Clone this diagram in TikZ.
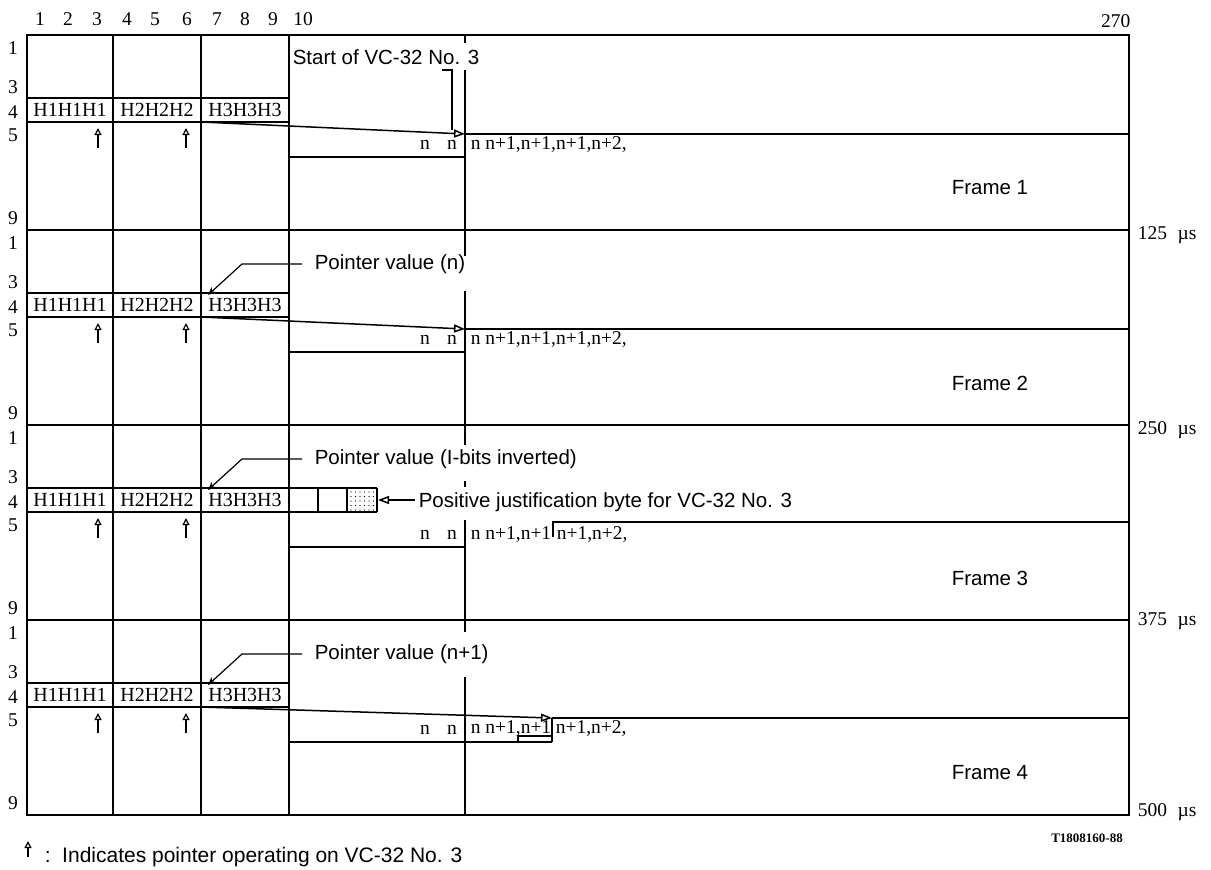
\documentclass[tikz,border=0pt]{standalone}
\usepackage{fontspec}
\setmainfont{Liberation Serif}
\newfontfamily\labfont{Liberation Sans}
\usetikzlibrary{arrows.meta}
\tikzset{
  ser/.style={font=\fontsize{19.5}{19.5}\selectfont, inner sep=0pt},
  seqs/.style={font=\fontsize{19.5}{19.5}\selectfont, inner sep=0pt, anchor=west},
  hb/.style={font=\fontsize{20}{20}\selectfont, inner sep=0pt},
  lbl/.style={font=\labfont\fontsize{20.5}{20.5}\selectfont, inner sep=0pt, anchor=west},
  uparr/.style={-{Triangle[open,length=7pt,width=7pt]}, line width=1.2pt},
  mainarr/.style={-{Triangle[open,length=11pt,width=8pt]}},
  ptrarr/.style={-{Stealth[length=8pt,width=7pt]}, line width=1.2pt},
}
\begin{document}
\begin{tikzpicture}[x=1pt,y=-1pt,line width=1.5pt]
\useasboundingbox (0,0) rectangle (1211,870);
\fill[white] (0,0) rectangle (1211,870);
% outer frame
\draw (27,35) rectangle (1129,815);
\foreach \yy in {230,425,620} \draw (27,\yy) -- (1129,\yy);
\foreach \xx in {113,201,289} \draw (\xx,35) -- (\xx,815);
% column numbers
\foreach \i/\xx in {1/40,2/68,3/97,4/127,5/155,6/187,7/217,8/245,9/273,10/303}
  \node[ser] (col\i) at (\xx,19) {\i};
\node[ser,anchor=east] (col270) at (1131,21) {270};
% frames
\foreach \o/\f in {0/1,195/2,390/3,585/4}{
  \node[ser] (ra\f) at (13,48+\o) {1};
  \node[ser] (rb\f) at (13,87+\o) {3};
  \node[ser] (rc\f) at (13,112+\o) {4};
  \node[ser] (rd\f) at (13,135+\o) {5};
  \node[ser] (re\f) at (13,218+\o) {9};
  \draw (27,98+\o) rectangle (289,122+\o);
  \node[hb] (hA\f) at (70,110+\o) {H1H1H1};
  \node[hb] (hB\f) at (157,110+\o) {H2H2H2};
  \node[hb] (hC\f) at (245,110+\o) {H3H3H3};
  \coordinate (ua\f) at (98,148+\o); \coordinate (ub\f) at (98,128+\o);
  \coordinate (uc\f) at (186,148+\o); \coordinate (ud\f) at (186,128+\o);
  \draw[uparr] (ua\f) -- (ub\f);
  \draw[uparr] (uc\f) -- (ud\f);
  \node[seqs,anchor=center] (nA\f) at (425,145+\o) {n};
  \node[seqs,anchor=center] (nB\f) at (452,145+\o) {n};
  \node[lbl,anchor=center] (fr\f) at (990,188+\o) {Frame \f};
}
% frame 1
\coordinate (s1) at (201,122); \coordinate (t1) at (465,134);
\draw[mainarr] (s1) -- (t1);
\draw (t1) -- (1129,134);
\draw (289,157) -- (465,157);
\draw (465,35) -- (465,43);
\draw (465,70) -- (465,230);
\node[lbl] (start) at (292,57) {Start of VC-32 No. 3};
\draw (442,70) -- (452,70) -- (452,130);
\node[seqs] (seq1) at (470,145) {n n+1,n+1,n+1,n+2,};
% frame 2
\coordinate (s2) at (201,317); \coordinate (t2) at (465,329);
\draw[mainarr] (s2) -- (t2);
\draw (t2) -- (1129,329);
\draw (289,352) -- (465,352);
\draw (465,230) -- (465,256);
\draw (465,291) -- (465,425);
\node[lbl] (pv2) at (314,264) {Pointer value (n)};
\coordinate (pk2) at (242,264); \coordinate (pe2) at (208,295);
\draw[ptrarr] (pv2.west) ++(-12,0) -- (pk2) -- (pe2);
\node[seqs] (seq2) at (470,340) {n n+1,n+1,n+1,n+2,};
% frame 3
\draw (289,488) -- (377,488);
\draw (289,512) -- (377,512);
\foreach \xx in {318,347,377} \draw (\xx,488) -- (\xx,512);
\foreach \xx in {351,355.5,...,374} \foreach \yy in {492,496.5,...,510}
  \fill (\xx,\yy) circle (0.7pt);
\node[lbl] (pj) at (418,502) {Positive justification byte for VC-32 No. 3};
\coordinate (pjt) at (378,500);
\draw[mainarr] (pj.west) ++(-3,-2) -- (pjt);
\node[lbl] (pv3) at (314,459) {Pointer value (I-bits inverted)};
\coordinate (pk3) at (242,459); \coordinate (pe3) at (208,490);
\draw[ptrarr] (pv3.west) ++(-12,0) -- (pk3) -- (pe3);
\draw (465,425) -- (465,445);
\draw (465,481) -- (465,487);
\draw (465,520) -- (465,620);
\draw (289,547) -- (465,547);
\draw (553,537) -- (553,522) -- (1129,522);
\node[seqs] (seq3a) at (470,535) {n n+1,n+1};
\node[seqs] (seq3b) at (556,535) {n+1,n+2,};
% frame 4
\coordinate (s4) at (201,707); \coordinate (t4) at (552,718);
\draw[mainarr] (s4) -- (t4);
\draw (t4) -- (1129,718);
\draw (552,718) -- (552,742);
\draw (289,742) -- (552,742);
\draw[line width=1.2pt] (518,742) -- (518,736) -- (552,736);
\draw (465,620) -- (465,632);
\draw (465,677) -- (465,815);
\node[lbl] (pv4) at (314,654) {Pointer value (n+1)};
\coordinate (pk4) at (242,654); \coordinate (pe4) at (208,685);
\draw[ptrarr] (pv4.west) ++(-12,0) -- (pk4) -- (pe4);
\node[seqs] (seq4a) at (470,729) {n n+1,n+1};
\node[seqs] (seq4b) at (555,729) {n+1,n+2,};
% time labels
\node[ser,anchor=west] (t125) at (1137,235) {125\hspace{0.55em}µs};
\node[ser,anchor=west] (t250) at (1137,430) {250\hspace{0.55em}µs};
\node[ser,anchor=west] (t375) at (1137,621) {375\hspace{0.55em}µs};
\node[ser,anchor=west] (t500) at (1137,812) {500\hspace{0.55em}µs};
\node[font=\bfseries\fontsize{13}{13}\selectfont,inner sep=0pt] (ref) at (1087,838) {T1808160-88};
% footnote
\coordinate (fa) at (28,857); \coordinate (fb) at (28,841);
\draw[uparr] (fa) -- (fb);
\node[lbl,font=\labfont\fontsize{21}{21}\selectfont] (fn) at (44,857) {:\ \ Indicates pointer operating on VC-32 No. 3};
\end{tikzpicture}
\end{document}
